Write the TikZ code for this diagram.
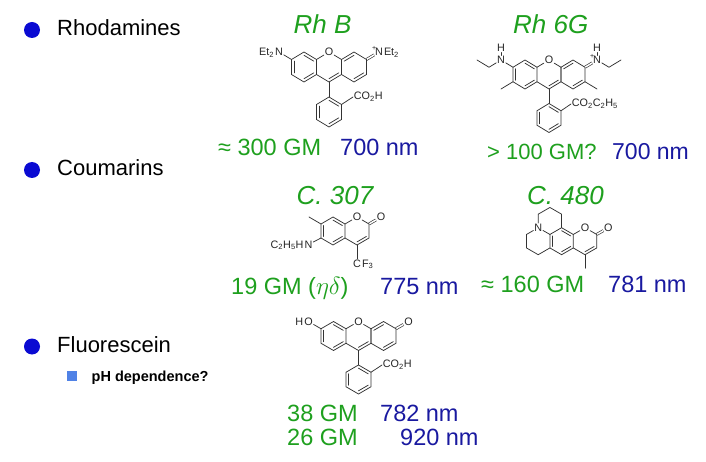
\documentclass[tikz,border=0pt]{standalone}
\usepackage{fontspec}
\setmainfont{Liberation Sans}
\usetikzlibrary{calc}
\definecolor{tgreen}{RGB}{30,160,30}
\definecolor{tblue}{RGB}{25,25,160}
\definecolor{bulblue}{RGB}{10,10,210}
\definecolor{sqblue}{RGB}{80,130,230}
\newcommand\mkhex[5]{%
  \coordinate (#1c) at (#2,#3);
  \coordinate (#1t) at (#2,{#3-#5});
  \coordinate (#1ur) at ({#2+#4},{#3-#5/2});
  \coordinate (#1lr) at ({#2+#4},{#3+#5/2});
  \coordinate (#1b) at (#2,{#3+#5});
  \coordinate (#1ll) at ({#2-#4},{#3+#5/2});
  \coordinate (#1ul) at ({#2-#4},{#3-#5/2});
}
\newcommand\inb[3]{\draw[bond] ($(#1)!0.22!(#3)$) -- ($(#2)!0.22!(#3)$);}
\tikzset{
  bond/.style={line width=0.75pt, draw=black!80, line cap=round},
  dbond/.style={draw=black!80, double=white, double distance=1.5pt, line width=0.65pt},
  lab/.style={font=\fontsize{10.8}{12}\selectfont, inner sep=0.7pt, text=black!85},
  labr/.style={lab, inner sep=0pt, anchor=base west},
  labl/.style={lab, inner sep=0pt, anchor=base east},
  big/.style={font=\fontsize{22}{26}\selectfont, inner sep=0pt, anchor=base west},
  num/.style={font=\fontsize{23.5}{28}\selectfont, inner sep=0pt, anchor=base west},
  ttl/.style={font=\fontsize{26}{30}\selectfont\itshape, inner sep=0pt, anchor=base west, text=tgreen},
  bullet/.style={circle, fill=bulblue, minimum size=16pt, inner sep=0pt},
  sq/.style={fill=sqblue, minimum size=10pt, inner sep=0pt},
  plus/.style={font=\fontsize{7}{8}\selectfont, inner sep=0pt, text=black!85},
}
\begin{document}
\begin{tikzpicture}[x=1pt,y=-1pt]
\fill[white] (0,0) rectangle (706,462);
\useasboundingbox (0,0) rectangle (706,462);

% ---------- headings ----------
\node[bullet] (b1) at (32,30) {};
\node[big] (t1) at (57,35.5) {Rhodamines};
\node[bullet] (b2) at (32,170) {};
\node[big] (t2) at (57,175.5) {Coumarins};
\node[bullet] (b3) at (32,346.5) {};
\node[big] (t3) at (57,352) {Fluorescein};
\node[sq] (s1) at (72,376) {};
\node[font=\fontsize{14.5}{17}\selectfont\bfseries, inner sep=0pt, anchor=base west] (t4) at (91.5,381) {pH dependence?};

% ---------- titles ----------
\node[ttl] (rhb) at (293.5,33.5) {Rh B};
\node[ttl] (rh6) at (513,34) {Rh 6G};
\node[ttl] (c307) at (296.5,205) {C. 307};
\node[ttl] (c480) at (527,205) {C. 480};

% ---------- numbers ----------
\node[num,text=tgreen] (n1) at (218,156) {≈ 300 GM};
\node[num,text=tblue] (w1) at (340,156) {700 nm};
\node[num,text=tgreen,font=\fontsize{22}{26}\selectfont] (n2) at (487,160) {> 100 GM?};
\node[num,text=tblue,font=\fontsize{23}{28}\selectfont] (w2) at (612,160) {700 nm};
\node[num,text=tgreen] (n3) at (231,294) {19 GM ($\eta\delta$)};
\node[num,text=tblue] (w3) at (380,294) {775 nm};
\node[num,text=tgreen] (n4) at (481,292) {≈ 160 GM};
\node[num,text=tblue] (w4) at (608,292) {781 nm};
\node[num,text=tgreen] (n5) at (287,421.5) {38 GM};
\node[num,text=tblue] (w5) at (380,421.5) {782 nm};
\node[num,text=tgreen] (n6) at (287,445) {26 GM};
\node[num,text=tblue] (w6) at (400,445) {920 nm};

% ---------- Rh B ----------
\mkhex{aM}{329}{67}{12.5}{15}
\mkhex{aL}{304}{67}{12.5}{15}
\mkhex{aR}{354}{67}{12.5}{15}
\mkhex{aP}{329}{112}{12.5}{15}
\node[lab] (aO) at (aMt) {O};
\node[lab] (aN1) at (279,52) {N};
\node[labl] (aE1) at (aN1.base west) {Et\textsubscript{2}};
\node[lab] (aN2) at (379,52) {N};
\node[labr] (aE2) at (aN2.base east) {Et\textsubscript{2}};
\node[plus,anchor=south east] (aPl) at ($(aN2.north west)+(2.2,3.2)$) {+};
\node[lab,anchor=west] (aCO) at (353,97) {CO\textsubscript{2}H};
\draw[dbond] (aRur) -- (aN2);
\draw[bond] (aLt) -- (aLur) -- (aLlr) -- (aLb) -- (aLll) -- (aLul) -- cycle;
\draw[bond] (aMul) -- (aO) -- (aMur);
\draw[bond] (aMur) -- (aMlr) -- (aMb) -- (aMll);
\draw[bond] (aRt) -- (aRur) -- (aRlr) -- (aRb) -- (aRll) -- (aRul) -- cycle;
\draw[bond] (aPt) -- (aPur) -- (aPlr) -- (aPb) -- (aPll) -- (aPul) -- cycle;
\draw[bond] (aMb) -- (aPt);
\draw[bond] (aLul) -- (aN1);
\draw[bond] (aPur) -- (aCO.west);
\inb{aLt}{aLur}{aLc} \inb{aLlr}{aLb}{aLc} \inb{aLll}{aLul}{aLc}
\inb{aMb}{aMlr}{aMc}
\inb{aRul}{aRt}{aRc} \inb{aRlr}{aRb}{aRc}
\inb{aPt}{aPur}{aPc} \inb{aPlr}{aPb}{aPc} \inb{aPll}{aPul}{aPc}

% ---------- Rh 6G ----------
\mkhex{bM}{549}{74.5}{12}{14.5}
\mkhex{bL}{525}{74.5}{12}{14.5}
\mkhex{bR}{573}{74.5}{12}{14.5}
\mkhex{bP}{549}{118}{12}{14.5}
\node[lab] (bO) at (bMt) {O};
\node[lab] (bN1) at (501,60) {N};
\node[lab] (bH1) at (501,48) {H};
\node[lab] (bN2) at (597,60) {N};
\node[lab] (bH2) at (597,48) {H};
\node[plus,anchor=south east] (bPl) at ($(bN2.north west)+(2.2,3.2)$) {+};
\node[lab,anchor=west] (bCO) at (571,104) {CO\textsubscript{2}C\textsubscript{2}H\textsubscript{5}};
\coordinate (be1) at (489,67.25);
\coordinate (be2) at (477,60);
\coordinate (be3) at (609,67.25);
\coordinate (be4) at (621,60);
\coordinate (bm1) at (501,89);
\coordinate (bm2) at (597,89);
\draw[dbond] (bRur) -- (bN2);
\draw[bond] (bLt) -- (bLur) -- (bLlr) -- (bLb) -- (bLll) -- (bLul) -- cycle;
\draw[bond] (bMul) -- (bO) -- (bMur);
\draw[bond] (bMur) -- (bMlr) -- (bMb) -- (bMll);
\draw[bond] (bRt) -- (bRur) -- (bRlr) -- (bRb) -- (bRll) -- (bRul) -- cycle;
\draw[bond] (bPt) -- (bPur) -- (bPlr) -- (bPb) -- (bPll) -- (bPul) -- cycle;
\draw[bond] (bMb) -- (bPt);
\draw[bond] (bLul) -- (bN1) -- (be1) -- (be2);
\draw[bond] (bN1) -- (bH1);
\draw[bond] (bN2) -- (be3) -- (be4);
\draw[bond] (bN2) -- (bH2);
\draw[bond] (bLll) -- (bm1);
\draw[bond] (bRlr) -- (bm2);
\draw[bond] (bPur) -- (bCO.west);
\inb{bLt}{bLur}{bLc} \inb{bLlr}{bLb}{bLc} \inb{bLll}{bLul}{bLc}
\inb{bMb}{bMlr}{bMc}
\inb{bRul}{bRt}{bRc} \inb{bRlr}{bRb}{bRc}
\inb{bPt}{bPur}{bPc} \inb{bPlr}{bPb}{bPc} \inb{bPll}{bPul}{bPc}

% ---------- C. 307 ----------
\mkhex{cL}{333}{231}{12}{14}
\mkhex{cR}{357}{231}{12}{14}
\node[lab] (cO1) at (cRt) {O};
\node[lab] (cO2) at (381,217) {O};
\node[lab] (cN) at (308.5,244.5) {N};
\node[labl] (cEt) at (cN.base west) {C\textsubscript{2}H\textsubscript{5}H};
\node[lab] (cC) at (357,263.5) {C};
\node[labr] (cF) at (cC.base east) {F\textsubscript{3}};
\coordinate (cm) at (309,217);
\draw[dbond] (cRur) -- (cO2);
\draw[bond] (cLt) -- (cLur) -- (cLlr) -- (cLb) -- (cLll) -- (cLul) -- cycle;
\draw[bond] (cLur) -- (cO1) -- (cRur) -- (cRlr) -- (cRb) -- (cLlr);
\draw[bond] (cRb) -- (cC);
\draw[bond] (cLll) -- (cN);
\draw[bond] (cLul) -- (cm);
\inb{cLt}{cLur}{cLc} \inb{cLlr}{cLb}{cLc} \inb{cLll}{cLul}{cLc}
\inb{cRlr}{cRb}{cRc}

% ---------- C. 480 ----------
\mkhex{dB}{561.6}{241.2}{11.7}{13.5}
\mkhex{dR}{585}{241.2}{11.7}{13.5}
\mkhex{dU}{549.9}{220.95}{11.7}{13.5}
\mkhex{dD}{538.2}{241.2}{11.7}{13.5}
\node[lab] (dN) at (dDt) {N};
\node[lab] (dO1) at (dRt) {O};
\node[lab] (dO2) at (608.4,227.7) {O};
\coordinate (dm) at (585,268.2);
\draw[dbond] (dRur) -- (dO2);
\draw[bond] (dBt) -- (dBur) -- (dBlr) -- (dBb) -- (dBll) -- (dBul) -- cycle;
\draw[bond] (dBur) -- (dO1) -- (dRur) -- (dRlr) -- (dRb) -- (dBlr);
\draw[bond] (dRb) -- (dm);
\draw[bond] (dBul) -- (dN);
\draw[bond] (dN) -- (dUul) -- (dUt) -- (dUur) -- (dBt);
\draw[bond] (dN) -- (dDul) -- (dDll) -- (dDb) -- (dBll);
\inb{dBt}{dBur}{dBc} \inb{dBlr}{dBb}{dBc} \inb{dBll}{dBul}{dBc}
\inb{dRlr}{dRb}{dRc}

% ---------- Fluorescein ----------
\mkhex{eM}{358.5}{336}{12.5}{14.5}
\mkhex{eL}{333.5}{336}{12.5}{14.5}
\mkhex{eR}{383.5}{336}{12.5}{14.5}
\mkhex{eP}{358.5}{379.5}{12.5}{14.5}
\node[lab] (eO) at (eMt) {O};
\node[lab] (eO2) at (308.5,321.5) {O};
\node[labl] (eH) at (eO2.base west) {H};
\node[lab] (eO3) at (408.5,321.5) {O};
\node[lab,anchor=west] (eCO) at (382,365) {CO\textsubscript{2}H};
\draw[dbond] (eRur) -- (eO3);
\draw[bond] (eLt) -- (eLur) -- (eLlr) -- (eLb) -- (eLll) -- (eLul) -- cycle;
\draw[bond] (eMul) -- (eO) -- (eMur);
\draw[bond] (eMur) -- (eMlr) -- (eMb) -- (eMll);
\draw[bond] (eRt) -- (eRur) -- (eRlr) -- (eRb) -- (eRll) -- (eRul) -- cycle;
\draw[bond] (ePt) -- (ePur) -- (ePlr) -- (ePb) -- (ePll) -- (ePul) -- cycle;
\draw[bond] (eMb) -- (ePt);
\draw[bond] (eLul) -- (eO2);
\draw[bond] (ePur) -- (eCO.west);
\inb{eLt}{eLur}{eLc} \inb{eLlr}{eLb}{eLc} \inb{eLll}{eLul}{eLc}
\inb{eMb}{eMlr}{eMc}
\inb{eRul}{eRt}{eRc} \inb{eRlr}{eRb}{eRc}
\inb{ePt}{ePur}{ePc} \inb{ePlr}{ePb}{ePc} \inb{ePll}{ePul}{ePc}
\end{tikzpicture}
\end{document}
